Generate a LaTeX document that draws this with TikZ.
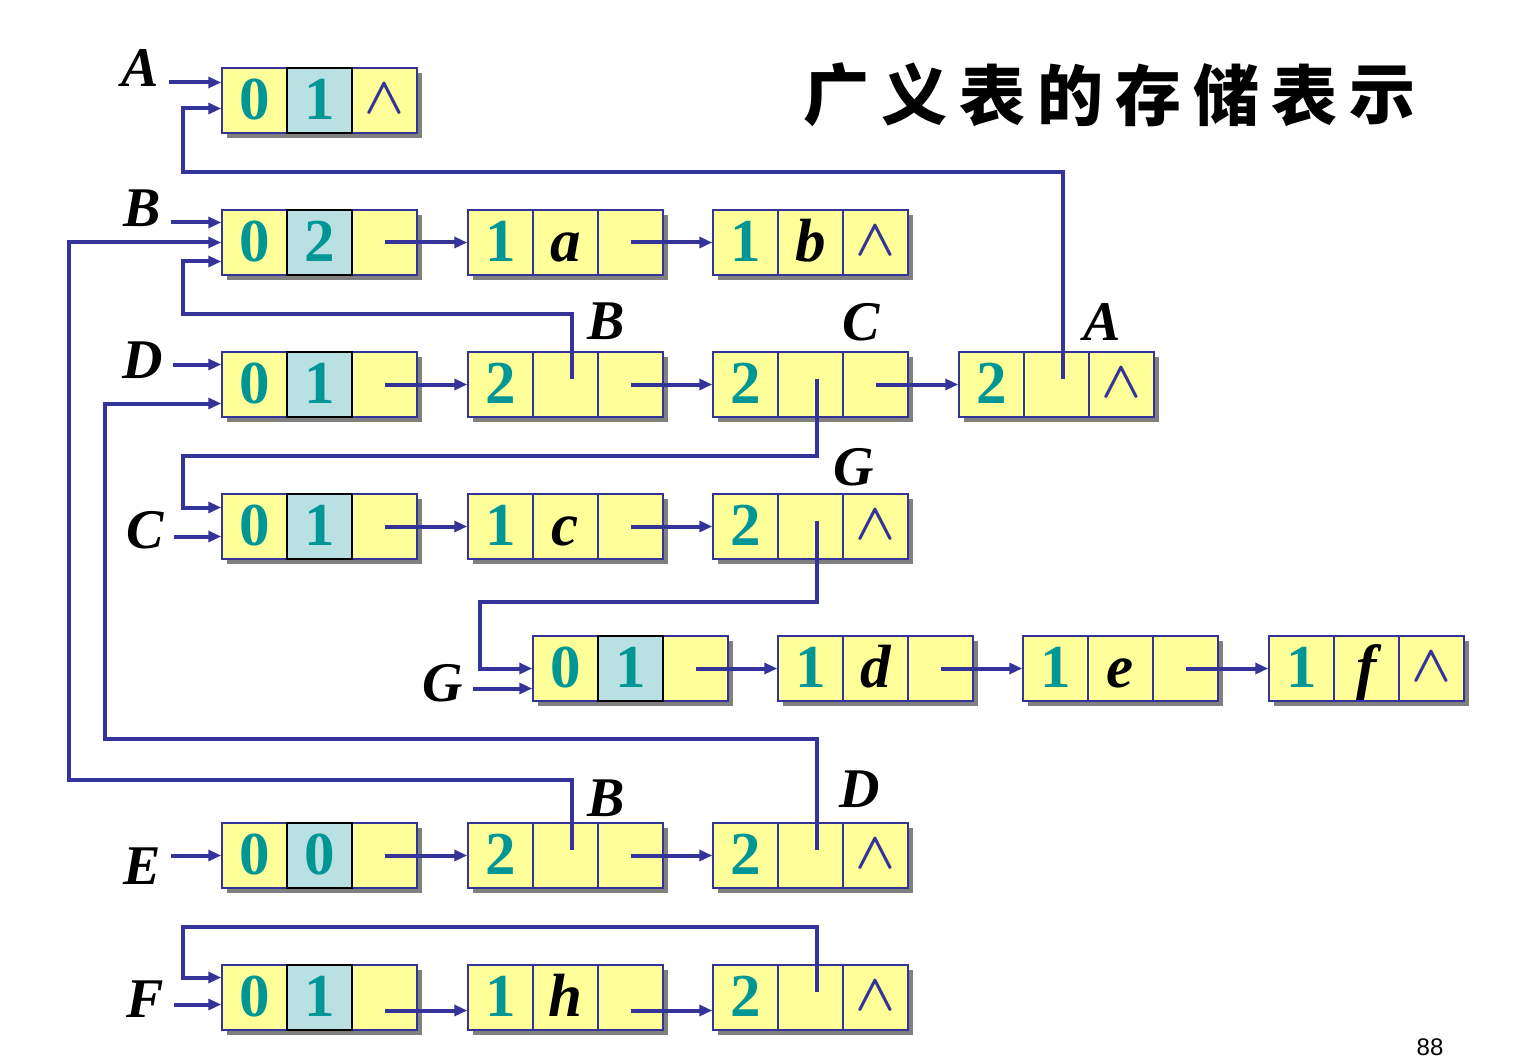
\RequirePackage{fix-cm}
\documentclass[tikz,border=0pt]{standalone}
\usepackage{fontspec}
\setmainfont{Liberation Serif}
\setsansfont{Liberation Sans}
\newfontfamily\cjk{Noto Sans CJK SC}
\usetikzlibrary{arrows.meta,calc}
\definecolor{lineblue}{RGB}{51,51,153}
\definecolor{cellyellow}{RGB}{255,255,153}
\definecolor{tagcyan}{RGB}{185,224,226}
\definecolor{digitteal}{RGB}{0,150,150}
\definecolor{nodeshadow}{RGB}{128,128,128}

% one list node: three cells (tag, hp, tp), drawn with its shadow
\newcommand\gnode[7][cell]{%
  \fill[nodeshadow] (#3+5,#4+5) rectangle ++(195,65);
  \node[cell] (#2-1) at (#3+32.5,#4+32.5) {#5};
  \node[cell] (#2-3) at (#3+162.5,#4+32.5) {#7};
  \node[#1] (#2-2) at (#3+97.5,#4+32.5) {#6};
  \coordinate (#2-p) at ($(#2-2.center)+(6,-6)$)}
\newcommand\el[1]{{\color{black}\itshape #1}}
\newcommand\nil{{\color{lineblue}\fontsize{52}{56}\selectfont\boldmath\raisebox{6pt}{$\wedge$}}}

\begin{document}
\begin{tikzpicture}[x=1pt, y=-1pt,
    cell/.style={draw=lineblue, fill=cellyellow, line width=1.5pt, minimum width=65pt,
      minimum height=65pt, inner sep=0pt, text height=42pt, text depth=4pt,
      font=\fontsize{61}{64}\selectfont\bfseries, text=digitteal},
    tagcell/.style={cell, draw=black, fill=tagcyan},
    biglabel/.style={font=\fontsize{56}{60}\selectfont\bfseries\itshape, inner sep=0pt},
    title/.style={font=\cjk\bfseries\fontsize{66}{70}\selectfont, inner sep=0pt},
    ptr/.style={draw=lineblue, line width=4pt, -{Triangle[length=13pt,width=11pt]}}]
    \useasboundingbox (0,0) rectangle (1515,1059);

    % --- Title and page number ---
    \foreach \ch [count=\i from 0] in {广,义,表,的,存,储,表,示}
        \node[title] (t\i) at (836+78*\i, 95) {\ch};
    \node[font=\sffamily\fontsize{24}{28}\selectfont] (pageno) at (1430,1047) {88};

    % --- List heads ---
    \node[biglabel] (lA) at (140,68) {A};
    \node[biglabel] (lB) at (142,208) {B};
    \node[biglabel] (lD) at (143,360) {D};
    \node[biglabel] (lC) at (145,530) {C};
    \node[biglabel] (lG) at (443,683) {G};
    \node[biglabel] (lE) at (142,866) {E};
    \node[biglabel] (lF) at (145,999) {F};

    % --- Nodes, row by row ---
    \gnode[tagcell]{A}{222}{68}{0}{1}{\nil};
    \gnode[tagcell]{B}{222}{210}{0}{2}{};
    \gnode{B2}{468}{210}{1}{\el{a}}{};
    \gnode{B3}{713}{210}{1}{\el{b}}{\nil};
    \gnode[tagcell]{D}{222}{352}{0}{1}{};
    \gnode{D2}{468}{352}{2}{}{};
    \gnode{D3}{713}{352}{2}{}{};
    \gnode{D4}{959}{352}{2}{}{\nil};
    \gnode[tagcell]{C}{222}{494}{0}{1}{};
    \gnode{C2}{468}{494}{1}{\el{c}}{};
    \gnode{C3}{713}{494}{2}{}{\nil};
    \gnode[tagcell]{G}{533}{636}{0}{1}{};
    \gnode{G2}{778}{636}{1}{\el{d}}{};
    \gnode{G3}{1023}{636}{1}{\el{e}}{};
    \gnode{G4}{1269}{636}{1}{\el{f}}{\nil};
    \gnode[tagcell]{E}{222}{823}{0}{0}{};
    \gnode{E2}{468}{823}{2}{}{};
    \gnode{E3}{713}{823}{2}{}{\nil};
    \gnode[tagcell]{F}{222}{965}{0}{1}{};
    \gnode{F2}{468}{965}{1}{\el{h}}{};
    \gnode{F3}{713}{965}{2}{}{\nil};

    % --- Names of the sublists ---
    \node[biglabel] (lDB) at (606,321) {B};
    \node[biglabel] (lDC) at (861,322) {C};
    \node[biglabel] (lDA) at (1102,322) {A};
    \node[biglabel] (lCG) at (854,467) {G};
    \node[biglabel] (lEB) at (606,798) {B};
    \node[biglabel] (lED) at (860,789) {D};

    % head pointers
    \foreach \n/\dy in {A/18, B/20, D/20, C/-10, G/-20, E/0, F/-7}
        \draw[ptr, shorten <=10pt] ([yshift=\dy pt]\n-1.west -| l\n.east) -- ([yshift=\dy pt]\n-1.west);

    % tp pointers
    \foreach \a/\b in {B/B2, B2/B3, D/D2, D2/D3, D3/D4, C/C2, C2/C3, G/G2, G2/G3, G3/G4, E/E2, E2/E3}
        \draw[ptr] (\a-3.center) -- (\b-1.west);
    \foreach \a/\b in {F/F2, F2/F3}
        \draw[ptr] ([yshift=-13pt]\a-3.center) -- ([yshift=-13pt]\b-1.west);

    % hp pointers to shared sublists
    \draw[ptr] (D2-p) |- ($(B-1.west)+(-38,71)$) |- ($(B-1.west)+(0,19)$);
    \draw[ptr] (D3-p) |- ($(C-1.west)+(-38,-71)$) |- ($(C-1.west)+(0,-19)$);
    \draw[ptr] (D4-p) |- ($(A-1.west)+(-38,72)$) |- ($(A-1.west)+(0,8)$);
    \draw[ptr] (C3-p) |- ($(G-1.west)+(-52,-67)$) |- (G-1.west);
    \draw[ptr] (E2-p) |- ($(E-1.north west)+(-152,-42)$) |- (B-1.west);
    \draw[ptr] (E3-p) |- ($(E-1.north west)+(-116,-83)$) |- ($(D-1.west)+(0,19)$);
    \draw[ptr] (F3-p) |- ($(F-1.north west)+(-38,-37)$) |- ($(F-1.west)+(0,-20)$);
\end{tikzpicture}
\end{document}
